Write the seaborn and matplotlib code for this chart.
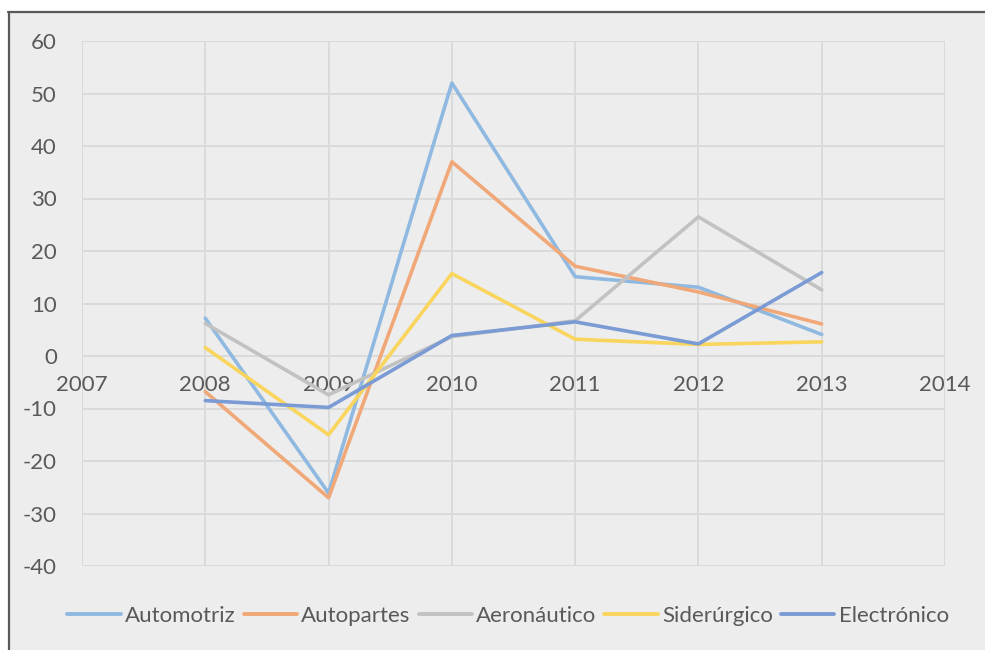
import matplotlib
matplotlib.use("Agg")
import matplotlib.pyplot as plt
import seaborn as sns
import pandas as pd
from matplotlib.lines import Line2D

years = [2008, 2009, 2010, 2011, 2012, 2013]
automotriz = [7.2, -26.1, 52.0, 15.1, 13.1, 4.1]
autopartes = [-6.8, -27.0, 37.0, 17.1, 12.2, 6.1]
aeronautico = [6.2, -7.4, 3.7, 6.7, 26.5, 12.6]
siderurgico = [1.6, -15.0, 15.7, 3.2, 2.2, 2.7]
electronico = [-8.5, -9.8, 3.9, 6.5, 2.3, 15.9]
series_names = ["Automotriz", "Autopartes", "Aeronáutico", "Siderúrgico", "Electrónico"]
x_ticks = [2007, 2008, 2009, 2010, 2011, 2012, 2013, 2014]
y_ticks = [-40, -30, -20, -10, 0, 10, 20, 30, 40, 50, 60]

colors = ["#8FB9E0", "#F0A878", "#C2C2C2", "#F9D55E", "#7B9BD4"]

rows = []
for name, vals in zip(series_names, [automotriz, autopartes, aeronautico, siderurgico, electronico]):
    for yr, v in zip(years, vals):
        rows.append({"year": yr, "value": v, "serie": name})
df = pd.DataFrame(rows)

sns.set_theme(style="white")
plt.rcParams["font.family"] = ["Lato", "DejaVu Sans"]

BG = "#EDEDED"
TXT = "#595959"
GRID = "#D9D9D9"

fig = plt.figure(figsize=(9.85, 6.5), dpi=100, facecolor="white")
bg = plt.Rectangle((9/985, 0), 1, 1 - 12/650, transform=fig.transFigure,
                   facecolor=BG, edgecolor="none", zorder=-10)
fig.patches.append(bg)
fig.lines.append(Line2D([9/985, 9/985], [0, 1 - 11.5/650], transform=fig.transFigure,
                        color="#595959", lw=1.6, zorder=-5))
fig.lines.append(Line2D([8.3/985, 1], [1 - 11.5/650, 1 - 11.5/650], transform=fig.transFigure,
                        color="#595959", lw=1.6, zorder=-5))

ax = fig.add_axes([82/985, 1 - 566/650, (945 - 82)/985, (566 - 41)/650])
ax.set_facecolor(BG)
ax.set_zorder(1)

sns.lineplot(data=df, x="year", y="value", hue="serie", hue_order=series_names,
             palette=colors, linewidth=2.6, ax=ax, legend=False, sort=False)

ax.set_xlim(2007, 2014)
ax.set_ylim(-40, 60)
ax.set_xticks(x_ticks)
ax.set_yticks(y_ticks)
ax.set_xticklabels([str(t) for t in x_ticks])
ax.set_yticklabels([str(t) for t in y_ticks])
ax.grid(True, color=GRID, linewidth=1.3)
ax.set_axisbelow(True)
for s in ["top", "right", "left"]:
    ax.spines[s].set_visible(False)
ax.spines["bottom"].set_position(("data", 0))
ax.spines["bottom"].set_visible(False)
ax.tick_params(axis="x", length=0, pad=14, labelsize=16, labelcolor=TXT)
ax.tick_params(axis="y", length=0, pad=18, labelsize=16, labelcolor=TXT)
ax.set_xlabel("")
ax.set_ylabel("")

handles = [Line2D([0], [0], color=c, lw=2.8, solid_capstyle="round") for c in colors]
fig.legend(handles, series_names, loc="center", bbox_to_anchor=(508/985, 1 - 616/650),
           ncol=5, frameon=False, fontsize=16, labelcolor=TXT, handlelength=2.4,
           handletextpad=0.2, columnspacing=0.35)

fig.savefig("out.png", dpi=100, facecolor="white")
